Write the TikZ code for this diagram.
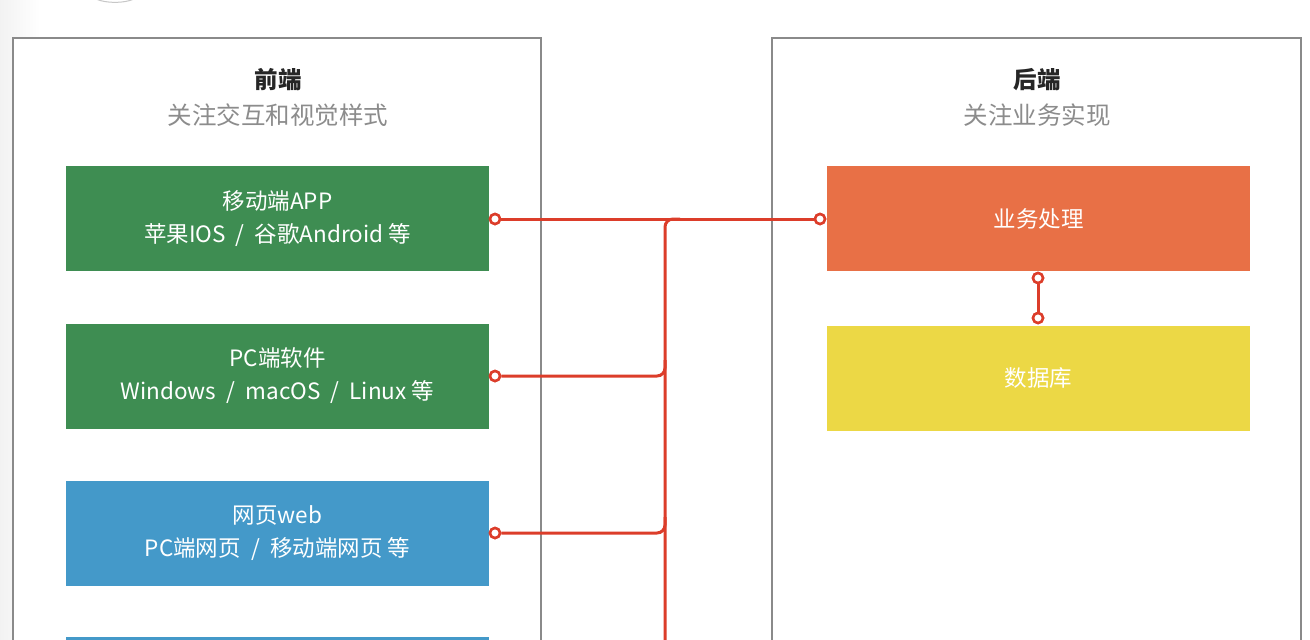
\documentclass[tikz,border=0pt]{standalone}
\usepackage{fontspec}
\setmainfont{Noto Sans CJK SC}
\usetikzlibrary{calc}
\definecolor{panelgray}{HTML}{8A8A8A}
\definecolor{subgray}{HTML}{8C8C8C}
\definecolor{boxgreen}{HTML}{3E8D52}
\definecolor{boxblue}{HTML}{4499C9}
\definecolor{boxorange}{HTML}{E87046}
\definecolor{boxyellow}{HTML}{ECD845}
\definecolor{linkred}{HTML}{DC3D2A}
\newcommand{\sep}{\hspace{0.45em}/\hspace{0.45em}}
\tikzset{
  panel/.style={draw=panelgray, line width=1.5pt, fill=white},
  titletext/.style={font=\fontsize{23.5}{27}\selectfont\bfseries, text=black!85},
  subtext/.style={font=\fontsize{24.5}{28}\selectfont, text=subgray},
  box/.style={minimum width=423pt, minimum height=105pt, inner sep=0pt, text=white, align=center, font=\fontsize{22.5}{33}\selectfont},
  link/.style={draw=linkred, line width=3pt},
  port/.style={circle, draw=linkred, line width=2.5pt, fill=white, minimum size=10pt, inner sep=0pt},
}
\begin{document}
\begin{tikzpicture}[x=1pt, y=-1pt]
\useasboundingbox (0,0) rectangle (1310,640);
\clip (0,0) rectangle (1310,640);
\fill[white] (0,0) rectangle (1310,640);
\shade[left color=black!5, right color=white] (0,0) rectangle (40,640);
\draw[black!22, line width=1pt] (96,-1) .. controls (106,3.5) and (124,3.5) .. (134,-1);
% panels
\draw[panel] (13,38) rectangle (541,660);
\draw[panel] (772,38) rectangle (1301,660);
\node[titletext] (ftitle) at (278,80) {前端};
\node[subtext] (fsub) at (278,115) {关注交互和视觉样式};
\node[titletext] (btitle) at (1037,80) {后端};
\node[subtext] (bsub) at (1037,115) {关注业务实现};
% front boxes
\node[box, fill=boxgreen] (app) at (277.5,218.5) {移动端APP\\苹果IOS\sep 谷歌Android 等};
\node[box, fill=boxgreen] (pc) at (277.5,376) {PC端软件\\Windows\sep macOS\sep Linux 等};
\node[box, fill=boxblue] (web) at (277.5,533.5) {网页web\\PC端网页\sep 移动端网页 等};
\node[box, fill=boxblue, minimum height=60pt] (more) at (277.5,667) {};
% back boxes
\node[box, fill=boxorange] (biz) at (1038.5,218.5) {业务处理};
\node[box, fill=boxyellow] (db) at (1038.5,378) {数据库};
% ports
\node[port] (p1) at (495,219) {};
\node[port] (p2) at (495,376) {};
\node[port] (p3) at (495,533) {};
\node[port] (pb) at (820,219) {};
\node[port] (pbd) at (1038,278) {};
\node[port] (pdb) at (1038,318) {};
\coordinate (busbot) at (665,660);
% links
\draw[link] (p1) -- (pb);
\draw[link, rounded corners=8pt] (busbot) -- (665,219) -- (680,219);
\draw[link, rounded corners=8pt] (p2) -- (665,376) -- (665,360);
\draw[link, rounded corners=8pt] (p3) -- (665,533) -- (665,517);
\draw[link] (pbd) -- (pdb);
\node[port] at (p1) {};
\node[port] at (p2) {};
\node[port] at (p3) {};
\node[port] at (pb) {};
\node[port] at (pbd) {};
\node[port] at (pdb) {};
\end{tikzpicture}
\end{document}
